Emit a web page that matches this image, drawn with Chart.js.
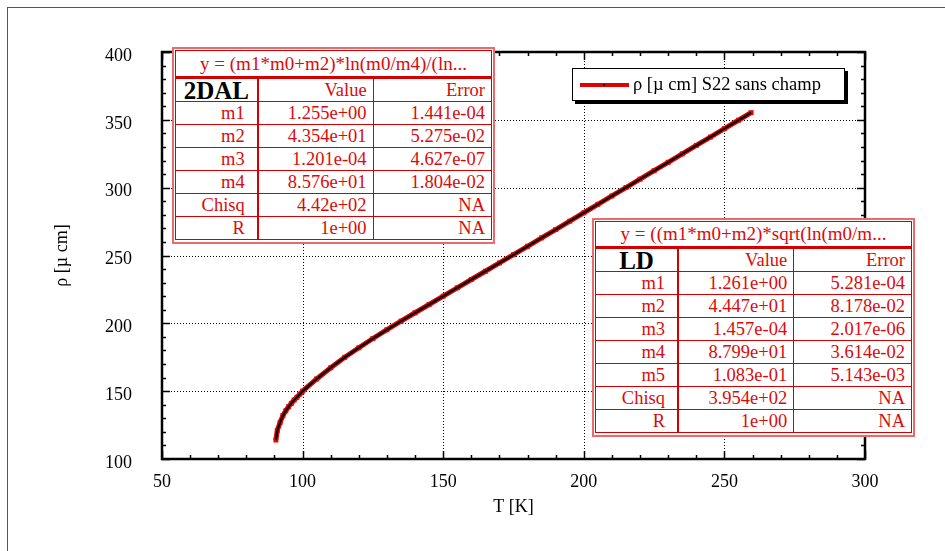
<!DOCTYPE html>
<html>
<head>
<meta charset="utf-8">
<script src="https://cdn.jsdelivr.net/npm/chart.js@4.4.1/dist/chart.umd.min.js"></script>
<style>
  html, body { margin: 0; padding: 0; background: #fff; }
  #wrap { position: relative; width: 945px; height: 551px; overflow: hidden; background: #fff; }
  #frame { position: absolute; left: 7px; top: 7px; width: 960px; height: 560px; border: 1px solid #555; }
  #c { position: absolute; left: 0; top: 0; }
  .fit { position: absolute; border: 2px solid #ec6a6a; padding: 1px; background: #fff; box-sizing: border-box; }
  .fit table { width: 100%; border-collapse: collapse; table-layout: fixed; border: 1px solid #d40000;
    font-family: "Liberation Serif", "Times New Roman", serif; font-size: 18.5px; color: #dc0a0a; }
  .fit td { border: 1px solid #d40000; text-align: right; padding: 0 6px 0 0; line-height: 18px; white-space: nowrap; overflow: visible; }
  .fit td.name { padding-right: 12px; border-right: 2px solid #d40000; }
  .fit tr.title td { text-align: center; border-bottom: 3px solid #d40000; padding: 0; font-size: 19px; }
  .fit td.tag { color: #000; font-weight: bold; font-size: 25px; text-align: center; vertical-align: bottom; padding: 0; line-height: 20px; }
  #legend { position: absolute; left: 572px; top: 68px; width: 273px; height: 33px; border: 1px solid #000; box-sizing: border-box;
    box-shadow: 3px 3px 0 #000; background: #fff; font-family: "Liberation Serif", "Times New Roman", serif; font-size: 18.5px; }
  #legend .sample { position: absolute; left: 7px; top: 14px; width: 49px; height: 4px; background: #e00000; }
  #legend .dot { position: absolute; left: 23px; top: 1px; width: 2px; height: 2px; background: #000; }
  #legend .txt { position: absolute; left: 60px; top: 5px; white-space: nowrap; }
</style>
</head>
<body>
<div id="wrap">
  <div id="frame"></div>
  <canvas id="c" width="945" height="551"></canvas>
  <div id="legend"><div class="sample"><div class="dot"></div></div><div class="txt"></div></div>
  <div class="fit" id="fit1" style="left:172px;top:47px;width:323px;height:197px"></div>
  <div class="fit" id="fit2" style="left:592px;top:218px;width:323px;height:219px"></div>
</div>
<script>
// mesures : T [K] et rho
const temperature = [90.5, 91, 92, 93, 94, 95, 96, 97, 98, 99, 100, 105, 110, 115, 120, 125, 130, 135, 140, 145,
    150, 155, 160, 165, 170, 175, 180, 185, 190, 195, 200, 205, 210, 215, 220, 225, 230, 235, 240, 245,
    250, 255, 259.5];
const resistivite = [114, 121, 127, 132, 135.5, 138.5, 141, 143.5, 145.5, 147.8, 150, 159, 167.3, 175, 182, 188.8, 195.3, 201.6, 207.8, 213.9,
    220, 226.2, 232.3, 238.4, 244.5, 250.6, 256.8, 263, 269.1, 275.3, 281.5, 287.7, 293.9, 300.1, 306.3, 312.5, 318.7, 324.9, 331.1, 337.3,
    343.5, 349.7, 355.3];

const xTicks = [50, 100, 150, 200, 250, 300];
const yTicks = [100, 150, 200, 250, 300, 350, 400];

const serieNom = "ρ [µ cm] S22 sans champ";

// tableaux des ajustements
const fit1Titre = "y = (m1*m0+m2)*ln(m0/m4)/(ln...";
const fit1Nom = "2DAL";
const fit1Params = ["m1", "m2", "m3", "m4", "Chisq", "R"];
const fit1Valeurs = ["1.255e+00", "4.354e+01", "1.201e-04", "8.576e+01", "4.42e+02", "1e+00"];
const fit1Erreurs = ["1.441e-04", "5.275e-02", "4.627e-07", "1.804e-02", "NA", "NA"];

const fit2Titre = "y = ((m1*m0+m2)*sqrt(ln(m0/m...";
const fit2Nom = "LD";
const fit2Params = ["m1", "m2", "m3", "m4", "m5", "Chisq", "R"];
const fit2Valeurs = ["1.261e+00", "4.447e+01", "1.457e-04", "8.799e+01", "1.083e-01", "3.954e+02", "1e+00"];
const fit2Erreurs = ["5.281e-04", "8.178e-02", "2.017e-06", "3.614e-02", "5.143e-03", "NA", "NA"];

function construireFit(id, titre, nom, params, valeurs, erreurs, largeurs, hTitre, hLigne) {
    let h = '<table><colgroup>';
    largeurs.forEach(w => { h += '<col style="width:' + w + 'px">'; });
    h += '</colgroup>';
    h += '<tr class="title"><td colspan="3" style="height:' + hTitre + 'px">' + titre + '</td></tr>';
    h += '<tr><td class="tag name" style="height:' + hLigne + 'px">' + nom + '</td><td>Value</td><td>Error</td></tr>';
    params.forEach((p, i) => {
        h += '<tr><td class="name" style="height:' + hLigne + 'px">' + p + '</td><td>' + valeurs[i] + '</td><td>' + erreurs[i] + '</td></tr>';
    });
    h += '</table>';
    document.getElementById(id).innerHTML = h;
}

construireFit('fit1', fit1Titre, fit1Nom, fit1Params, fit1Valeurs, fit1Erreurs, [82, 115, 118], 25, 22);
construireFit('fit2', fit2Titre, fit2Nom, fit2Params, fit2Valeurs, fit2Erreurs, [82, 115, 117], 24, 22);
document.querySelector('#legend .txt').textContent = serieNom;

const points = temperature.map((t, i) => ({ x: t, y: resistivite[i] }));

// grille pointillee, cadre et graduations internes
const cadrePlugin = {
    id: 'cadre',
    beforeDatasetsDraw(chart) {
        const { ctx, chartArea: a, scales: { x, y } } = chart;
        ctx.save();
        ctx.strokeStyle = '#000';
        ctx.lineWidth = 1;
        ctx.setLineDash([1, 2]);
        xTicks.slice(1, -1).forEach(v => {
            const px = Math.round(x.getPixelForValue(v)) + 0.5;
            ctx.beginPath(); ctx.moveTo(px, a.top); ctx.lineTo(px, a.bottom); ctx.stroke();
        });
        yTicks.slice(1, -1).forEach(v => {
            const py = Math.round(y.getPixelForValue(v)) + 0.5;
            ctx.beginPath(); ctx.moveTo(a.left, py); ctx.lineTo(a.right, py); ctx.stroke();
        });
        ctx.restore();
    },
    afterDatasetsDraw(chart) {
        const { ctx, chartArea: a, scales: { x, y } } = chart;
        ctx.save();
        ctx.strokeStyle = '#000';
        ctx.lineWidth = 1.5;
        for (let v = x.min; v <= x.max; v += 10) {
            const px = Math.round(x.getPixelForValue(v)) + 0.5;
            const len = (v % 50 === 0) ? 8 : 4;
            ctx.beginPath();
            ctx.moveTo(px, a.bottom); ctx.lineTo(px, a.bottom - len);
            ctx.moveTo(px, a.top); ctx.lineTo(px, a.top + len);
            ctx.stroke();
        }
        for (let v = y.min; v <= y.max; v += 10) {
            const py = Math.round(y.getPixelForValue(v)) + 0.5;
            const len = (v % 50 === 0) ? 8 : 4;
            ctx.beginPath();
            ctx.moveTo(a.left, py); ctx.lineTo(a.left + len, py);
            ctx.moveTo(a.right, py); ctx.lineTo(a.right - len, py);
            ctx.stroke();
        }
        ctx.lineWidth = 2.5;
        ctx.strokeRect(a.left, a.top, a.right - a.left, a.bottom - a.top);
        ctx.restore();
    }
};

const police = { family: '"Liberation Serif", "Times New Roman", serif', size: 18 };

new Chart(document.getElementById('c'), {
    type: 'line',
    data: {
        datasets: [
            {
                label: 'ajustement',
                data: points,
                borderColor: '#000',
                borderWidth: 2.2,
                pointRadius: 0,
                fill: false
            },
            {
                label: serieNom,
                data: points,
                borderColor: '#e00000',
                borderWidth: 5,
                pointStyle: 'rect',
                pointRadius: 3.5,
                pointBackgroundColor: '#f00000',
                pointBorderWidth: 0,
                fill: false
            }
        ]
    },
    options: {
        responsive: false,
        animation: false,
        devicePixelRatio: 1,
        layout: { padding: { top: 52, right: 80, left: 0, bottom: 0 } },
        plugins: { legend: { display: false }, tooltip: { enabled: false } },
        scales: {
            x: {
                type: 'linear',
                min: 50, max: 300,
                afterBuildTicks: s => { s.ticks = xTicks.map(v => ({ value: v })); },
                afterFit: s => { s.height = 92; },
                ticks: { font: police, color: '#000', padding: 4 },
                grid: { display: false },
                border: { display: false },
                title: { display: true, text: 'T [K]', font: police, color: '#000', padding: { top: 0, bottom: 33 } }
            },
            y: {
                type: 'linear',
                min: 100, max: 400,
                afterBuildTicks: s => { s.ticks = yTicks.map(v => ({ value: v })); },
                afterFit: s => { s.width = 162; },
                ticks: { font: police, color: '#000', padding: 22, labelOffset: 4 },
                grid: { display: false },
                border: { display: false },
                title: { display: true, text: 'ρ [µ cm]', font: police, color: '#000', padding: { top: 51, bottom: 0 } }
            }
        }
    },
    plugins: [cadrePlugin]
});
</script>
</body>
</html>
